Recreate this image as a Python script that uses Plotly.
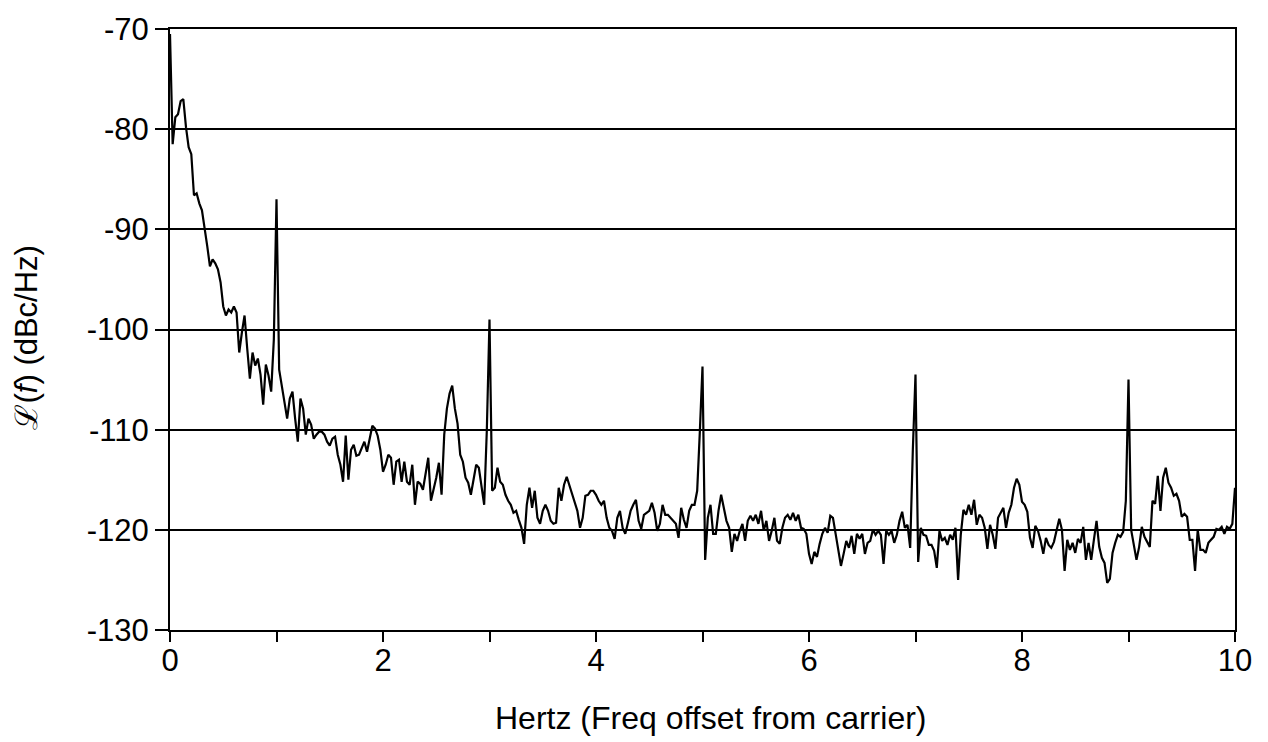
import plotly.graph_objects as go

# Frequency grid (Hz) - 0.025 Hz bins from 0 to 10 Hz
freq_hz = [round(i * 0.025, 3) for i in range(401)]

# Phase noise level L(f) in dBc/Hz, one list per 1-Hz span (40 bins each)
level_0_1 = [-70.5, -81.5, -78.8, -78.5, -77.2, -77.0, -79.8, -81.8, -82.5, -86.6,
             -86.4, -87.4, -88.1, -89.7, -91.7, -93.7, -93.0, -93.4, -94.0, -95.3,
             -97.7, -98.6, -98.0, -98.3, -97.7, -98.3, -102.3, -100.3, -98.6, -101.9,
             -104.9, -102.3, -103.6, -102.9, -104.5, -107.5, -103.5, -104.6, -106.2, -101.0]
level_1_2 = [-87.0, -104.0, -105.6, -107.6, -108.9, -106.9, -106.2, -108.9, -111.2, -106.9,
             -107.9, -110.5, -108.9, -109.5, -110.9, -110.5, -110.2, -110.2, -110.5, -111.2,
             -111.6, -110.9, -110.7, -112.5, -113.5, -115.2, -110.6, -115.0, -112.0, -111.5,
             -112.6, -112.5, -111.9, -111.2, -112.2, -111.0, -109.6, -109.9, -110.6, -112.0]
level_2_3 = [-114.2, -113.5, -112.5, -112.8, -115.5, -113.2, -113.0, -115.2, -113.2, -115.2,
             -115.5, -113.5, -117.5, -115.2, -115.4, -116.0, -114.5, -112.8, -117.1, -116.0,
             -114.8, -113.3, -116.5, -110.5, -107.9, -106.4, -105.6, -107.9, -109.4, -112.5,
             -113.2, -114.8, -115.3, -116.5, -114.8, -113.5, -113.8, -115.8, -117.5, -110.0]
level_3_4 = [-99.0, -116.1, -115.8, -113.8, -115.2, -115.5, -116.5, -117.1, -117.5, -118.3,
             -118.1, -119.0, -119.8, -121.4, -117.5, -115.8, -117.8, -116.1, -118.8, -119.4,
             -118.1, -117.5, -118.1, -119.1, -119.4, -119.3, -115.8, -117.1, -115.5, -114.7,
             -115.5, -116.5, -117.1, -118.1, -119.8, -118.8, -116.6, -116.5, -116.1, -116.1]
level_4_5 = [-116.5, -117.1, -117.5, -117.1, -118.8, -119.8, -120.1, -120.9, -118.8, -118.1,
             -119.8, -120.4, -119.3, -118.1, -117.5, -117.0, -119.1, -119.9, -118.5, -118.3,
             -118.1, -117.3, -118.3, -120.1, -119.4, -117.5, -118.5, -118.5, -118.8, -119.1,
             -119.4, -120.8, -117.8, -119.0, -119.8, -118.1, -117.5, -117.5, -116.1, -110.2]
level_5_6 = [-103.7, -123.0, -118.8, -117.5, -120.4, -120.4, -118.1, -116.5, -117.8, -119.1,
             -119.8, -122.2, -120.4, -121.1, -120.1, -119.4, -121.1, -119.1, -118.6, -119.1,
             -118.5, -119.4, -118.1, -120.1, -119.1, -121.1, -120.1, -118.8, -121.1, -121.4,
             -119.8, -118.8, -118.5, -119.0, -118.3, -119.1, -118.5, -119.8, -119.9, -120.4]
level_6_7 = [-122.4, -123.4, -122.2, -122.7, -121.4, -120.4, -119.8, -120.3, -118.6, -118.8,
             -120.4, -122.2, -123.6, -122.4, -121.1, -121.8, -120.6, -122.4, -120.4, -120.9,
             -120.4, -122.4, -121.3, -121.1, -120.0, -120.5, -120.1, -120.5, -123.4, -120.1,
             -120.5, -120.1, -121.3, -120.5, -119.1, -118.2, -119.8, -119.5, -121.8, -112.0]
level_7_8 = [-104.5, -123.2, -119.8, -120.5, -120.6, -121.5, -121.5, -122.1, -123.8, -120.1,
             -121.1, -120.8, -121.5, -120.5, -121.0, -119.8, -125.0, -120.5, -118.0, -118.5,
             -117.5, -118.5, -117.0, -119.5, -118.5, -118.8, -119.8, -121.9, -119.5, -120.5,
             -121.9, -118.8, -118.3, -117.8, -119.8, -118.3, -117.5, -115.8, -114.9, -115.5]
level_8_9 = [-117.2, -117.5, -118.2, -120.8, -121.8, -119.6, -120.1, -121.1, -122.4, -120.8,
             -121.5, -121.8, -121.2, -120.0, -118.9, -120.0, -124.1, -121.0, -122.0, -121.3,
             -122.3, -120.9, -121.3, -119.7, -123.0, -121.3, -123.0, -121.0, -119.1, -121.7,
             -122.8, -123.3, -125.3, -124.9, -122.3, -121.3, -120.5, -120.7, -120.2, -117.1]
level_9_10 = [-105.0, -120.0, -121.7, -123.0, -121.7, -119.7, -120.7, -121.2, -121.7, -117.1,
              -117.4, -114.6, -118.1, -114.8, -113.8, -115.3, -115.8, -116.6, -116.4, -117.1,
              -118.7, -118.4, -118.7, -121.0, -121.0, -124.1, -120.0, -122.0, -122.0, -122.3,
              -121.3, -121.0, -120.7, -119.9, -120.0, -119.7, -120.4, -119.7, -119.9, -119.4,
              -115.8]

level_dbc = (level_0_1 + level_1_2 + level_2_3 + level_3_4 + level_4_5 +
             level_5_6 + level_6_7 + level_7_8 + level_8_9 + level_9_10)

x_tick_vals = [0, 1, 2, 3, 4, 5, 6, 7, 8, 9, 10]
x_tick_text = ["0", "", "2", "", "4", "", "6", "", "8", "", "10"]
y_tick_vals = [-130, -120, -110, -100, -90, -80, -70]
y_tick_text = ["-130", "-120", "-110", "-100", "-90", "-80", "-70"]

x_title = "Hertz (Freq offset from carrier)"
y_title = "ℒ(<i>f</i>) (dBc/Hz)"

FONT = "Liberation Sans, Arial, Helvetica, sans-serif"

fig = go.Figure()
fig.add_trace(go.Scatter(x=freq_hz, y=level_dbc, mode="lines",
                         line=dict(color="black", width=2.2),
                         showlegend=False, hoverinfo="x+y"))

fig.update_layout(
    width=1268, height=742,
    margin=dict(l=170, r=33, t=24, b=112),
    paper_bgcolor="white", plot_bgcolor="white",
    font=dict(family=FONT, color="black", size=31),
    showlegend=False,
)
fig.update_xaxes(range=[0, 10], tickvals=x_tick_vals, ticktext=x_tick_text,
                 showgrid=False, zeroline=False, showline=True, mirror=True,
                 linecolor="black", linewidth=2, ticks="outside", ticklen=10,
                 tickwidth=2, tickcolor="black", tickfont=dict(size=31),
                 ticklabelstandoff=-8)
fig.update_yaxes(range=[-130, -70], tickvals=y_tick_vals, ticktext=y_tick_text,
                 showgrid=True, gridcolor="black", gridwidth=2, zeroline=False,
                 showline=True, mirror=True, linecolor="black", linewidth=2,
                 ticks="outside", ticklen=13, tickwidth=2, tickcolor="black",
                 tickfont=dict(size=31))

fig.add_annotation(text=x_title, xref="x", yref="paper", x=5.075, y=0,
                   yanchor="middle", xanchor="center", yshift=-88, showarrow=False,
                   font=dict(size=32, family=FONT))
fig.add_annotation(text=y_title, xref="paper", yref="y", x=0, y=-100.8,
                   xanchor="center", yanchor="middle", xshift=-143, textangle=-90,
                   showarrow=False, font=dict(size=31, family=FONT))

fig.write_html("out.html", config={"displayModeBar": False},
               post_script="document.body.style.margin='0';")
